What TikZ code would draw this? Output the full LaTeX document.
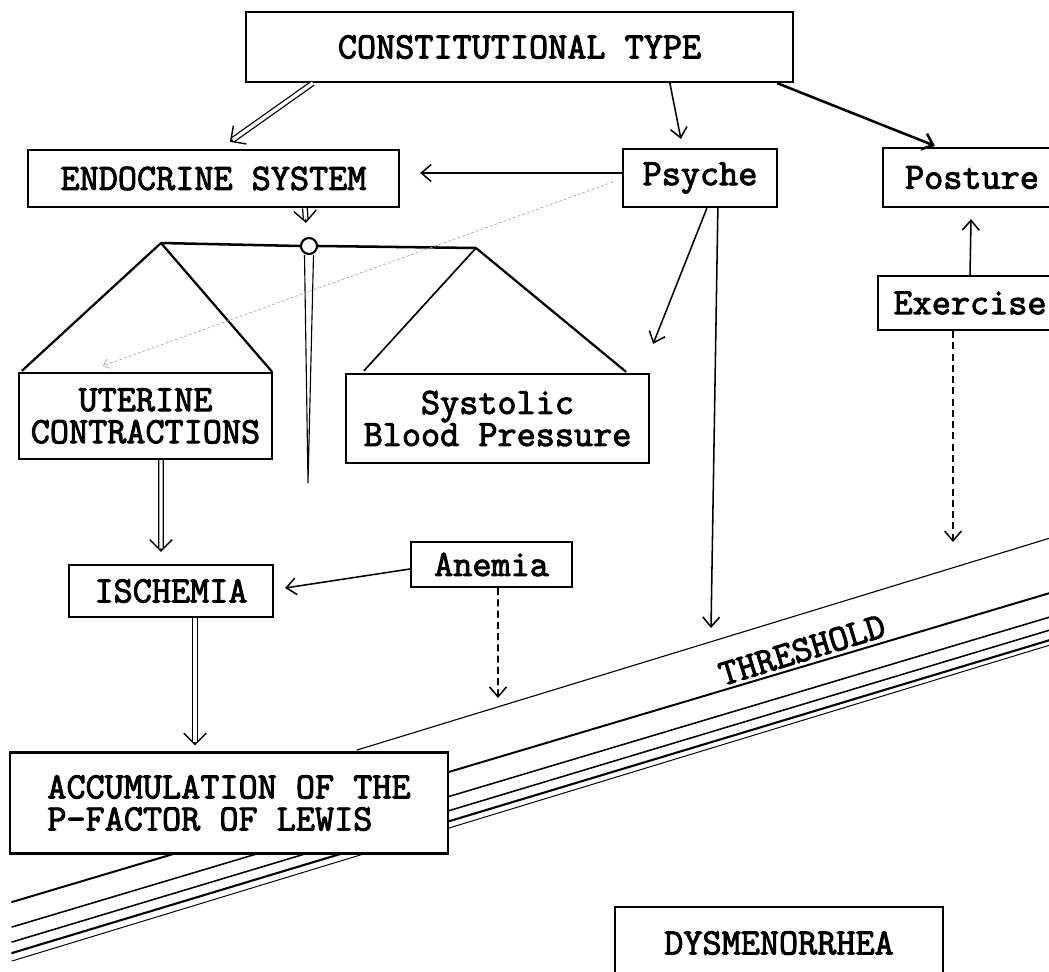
\documentclass[tikz,border=0pt]{standalone}
\usepackage{fontspec}
\usetikzlibrary{arrows.meta,calc}
\newfontfamily\typefont[FakeBold=2.6]{Latin Modern Mono}
\newdimen\unitpx
\unitpx=0.025cm
\newcommand{\boxfont}{\typefont\fontsize{26.4pt}{22.8pt}\selectfont}
\newcommand{\dblarrow}[2]{%
  \draw[dblhead] #1 -- #2;
  \draw[dblshaft] #1 -- #2;}
\tikzset{
  box/.style={draw, line width=1.6pt, fill=white, inner sep=0pt, align=center, font=\boxfont},
  arr/.style={-{Straight Barb[length=7pt,width=12pt]}, line width=1.1pt},
  dblhead/.style={-{Straight Barb[length=8pt,width=16pt]}, line width=1pt},
  dblshaft/.style={double, double distance=2.4pt, line width=0.9pt, shorten >=2.5pt},
  dasharr/.style={arr, dash pattern=on 5pt off 3pt},
  faintarr/.style={-{Straight Barb[length=4pt,width=7pt]}, gray!70, line width=0.5pt, dash pattern=on 2pt off 1.5pt},
  pan/.style={line width=1.6pt},
  sill/.style={line cap=round}
}
\begin{document}
\begin{tikzpicture}[x=0.025cm,y=-0.025cm]
\clip (0,0) rectangle (1049,971);

%%%%%%%% threshold
\draw[sill, line width=0.8pt] (357,750) -- (1060,535);
\draw[sill, line width=1.4pt] (12,902) -- (1060,590);
\draw[sill, line width=1.1pt] (12,927) -- (1060,614);
\draw[sill, line width=1.1pt] (12,942) -- (1060,627);
\draw[sill, line width=1.5pt] (12,953) -- (1060,637);
\draw[sill, line width=0.7pt] (12,961) -- (1060,642);
\node[font=\boxfont, rotate=17] (thr) at (802,650) {THRESHOLD};

%%%%%%%% boxes
\node[box, minimum width=547\unitpx, minimum height=70\unitpx] (ct) at (519.5,47) {CONSTITUTIONAL TYPE};
\node[box, minimum width=371\unitpx, minimum height=57\unitpx] (endo) at (213.5,178.5) {ENDOCRINE SYSTEM};
\node[box, minimum width=154\unitpx, minimum height=58\unitpx] (psyche) at (700,178) {Psyche};
\node[box, minimum width=178\unitpx, minimum height=59\unitpx] (posture) at (972,177.5) {Posture};
\node[box, minimum width=184\unitpx, minimum height=54\unitpx] (exercise) at (970,303) {Exercise};
\node[box, minimum width=253\unitpx, minimum height=86\unitpx] (uterine) at (145.5,416) {UTERINE\\CONTRACTIONS};
\node[box, minimum width=303\unitpx, minimum height=89\unitpx] (systolic) at (497.5,418.5) {Systolic\\Blood Pressure};
\node[box, minimum width=204\unitpx, minimum height=52\unitpx] (ischemia) at (171,591) {ISCHEMIA};
\node[box, minimum width=161\unitpx, minimum height=45\unitpx] (anemia) at (491.5,564.5) {Anemia};
\node[box, align=left, minimum width=438\unitpx, minimum height=101\unitpx] (accum) at (229,803) {ACCUMULATION OF THE\\P-FACTOR OF LEWIS};
\node[box, minimum width=328\unitpx, minimum height=72\unitpx] (dysm) at (779,943) {DYSMENORRHEA};

%%%%%%%% balance
\node[circle, draw, line width=1.5pt, fill=white, inner sep=0pt, minimum size=16\unitpx] (pivot) at (309,246) {};
\coordinate (beamL) at (161,243);
\coordinate (beamR) at (476,248);
\coordinate (poletip) at (308,483);
\path [line width=1.8pt] (beamL) edge (pivot.west);
\path [line width=1.8pt] (pivot.east) edge (beamR);
\path [pan] (beamL) edge ($(uterine.north west)+(4,-1)$);
\path [pan] (beamL) edge ($(uterine.north east)+(-1,0)$);
\path [pan, line width=1.2pt] (beamR) edge ($(systolic.north west)+(19,-2)$);
\path [pan] (beamR) edge ($(systolic.north east)+(-24,-1)$);
\draw[line width=0.8pt, line join=miter] ($(pivot.south)+(-4.5,0)$) -- (poletip) -- ($(pivot.south)+(4.5,0)$);

%%%%%%%% arrows
\coordinate (psychetip) at (711,628);
\coordinate (exertip) at (953,542);
\coordinate (anemiatip) at (498,698);

\dblarrow{($(ct.south west)+(68,0)$)}{($(endo.north west)+(203,-7)$)}
\path [arr] ($(ct.south west)+(425,0)$) edge ($(psyche.north west)+(59,-9)$);
\path [arr, line width=1.8pt] ($(ct.south east)+(-17,0)$) edge ($(posture.north west)+(53,-1)$);
\path [arr] ($(psyche.west)+(0,-5)$) edge ($(endo.east)+(20,-5.5)$);
\dblarrow{($(endo.south west)+(278,0)$)}{($(pivot.north)+(-3,-14)$)}
\path [faintarr] ($(psyche.west)+(-9,4)$) edge ($(uterine.north west)+(85,-6)$);
%%%%%%%%
\path [arr] ($(psyche.south west)+(85,0)$) edge ($(systolic.north east)+(3,-29)$);
\path [arr] ($(psyche.south west)+(96,0)$) edge (psychetip);
\path [arr] (exercise.north) edge ($(posture.south)+(-1,11)$);
\path [dasharr] ($(exercise.south)+(-17,0)$) edge (exertip);
%%%%%%%%
\dblarrow{($(uterine.south)+(15.5,0)$)}{($(ischemia.north)+(-10,-12)$)}
\path [arr] ($(anemia.west)+(0,4.5)$) edge ($(ischemia.east)+(11,-3)$);
\path [dasharr] ($(anemia.south)+(6.5,0)$) edge (anemiatip);
\dblarrow{($(ischemia.south)+(24,0)$)}{($(accum.north)+(-34,-6)$)}

\end{tikzpicture}
\end{document}
